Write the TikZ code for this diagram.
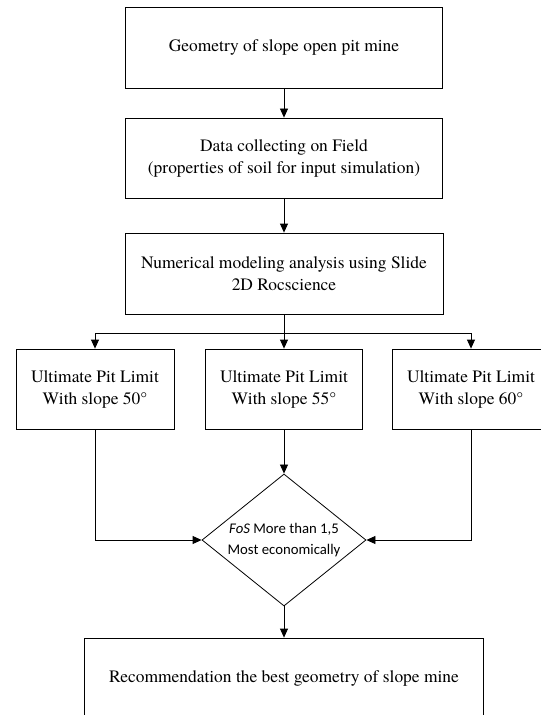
\documentclass[tikz,border=0pt]{standalone}
\usepackage{fontspec}
\setmainfont{texgyretermes}[Extension=.otf, UprightFont=*-regular,
  BoldFont=*-bold, ItalicFont=*-italic, BoldItalicFont=*-bolditalic]
\newfontfamily\calibri{Carlito}
\usetikzlibrary{arrows.meta,shapes.geometric}

\begin{document}
\begin{tikzpicture}[x=1bp, y=-1bp,
  every path/.style={line width=0.8bp},
  stepbox/.style={draw, rectangle, align=center, inner sep=0pt,
    minimum width=#1, minimum height=80bp,
    font=\fontsize{17.5}{22}\selectfont},
  stepbox/.default=158bp,
  choice/.style={draw, diamond, align=center, inner sep=0pt,
    minimum width=164bp, minimum height=132bp, aspect=1.24,
    font=\calibri\fontsize{14.8}{21}\selectfont},
  flow/.style={-{Triangle[length=9bp,width=8bp]}}]
\useasboundingbox (0,0) rectangle (541,715);
\node[stepbox=317bp, minimum height=81bp] (geo) at (284,47.5) {Geometry of slope open pit mine};
\node[stepbox=317bp] (data) at (284,158) {Data collecting on Field\\(properties of soil for input simulation)};
\node[stepbox=318bp, minimum height=81bp] (num) at (284,273.5) {Numerical modeling analysis using Slide\\2D Rocscience};
\node[stepbox] (lim50) at (95,389) {Ultimate Pit Limit\\With slope 50°};
\node[stepbox=157bp] (lim55) at (284,389) {Ultimate Pit Limit\\With slope 55°};
\node[stepbox] (lim60) at (471,389) {Ultimate Pit Limit\\With slope 60°};
\node[choice] (fos) at (284,540) {\textit{FoS} More than 1,5\\Most economically};
\node[stepbox=399bp] (rec) at (284,678) {Recommendation the best geometry of slope mine};
\coordinate (split) at (284,333);
\draw[flow] (geo) -- (data);
\draw[flow] (data) -- (num);
\draw (num) -- (split);
\draw[flow] (split) -| (lim50);
\draw[flow] (split) -- (lim55);
\draw[flow] (split) -| (lim60);
\draw[flow] (lim55) -- (fos);
\draw[flow] (lim50) |- (fos);
\draw[flow] (lim60) |- (fos);
\draw[flow] (fos) -- (rec);
\end{tikzpicture}
\end{document}
